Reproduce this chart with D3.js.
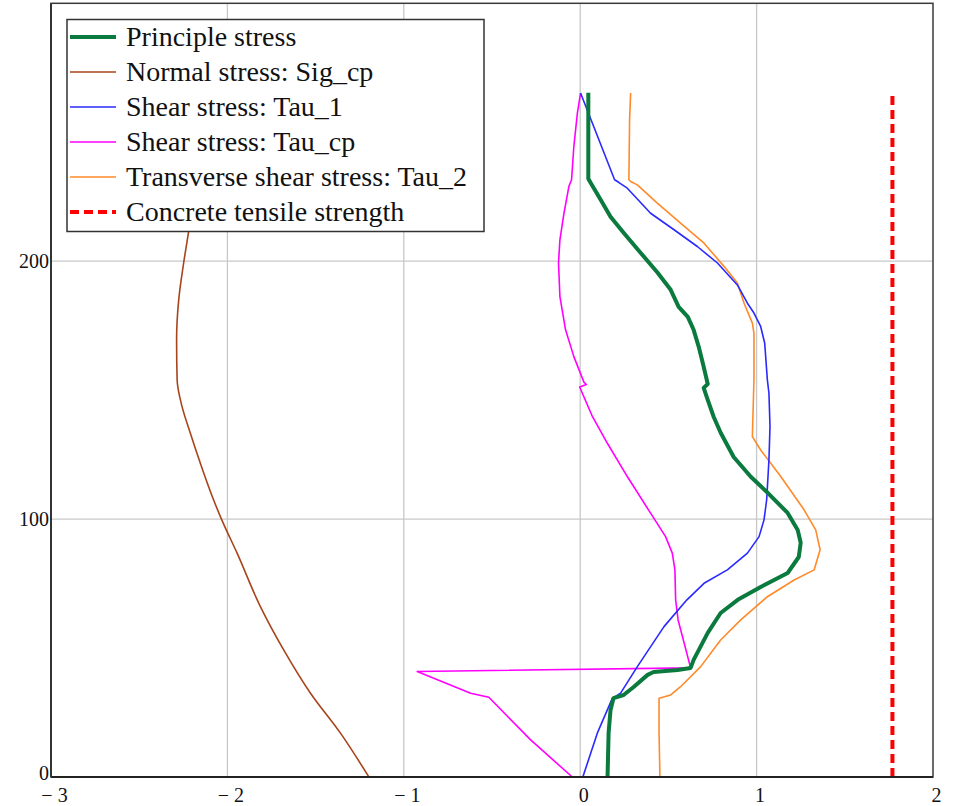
<!DOCTYPE html>
<html>
<head>
<meta charset="utf-8">
<script src="https://cdn.jsdelivr.net/npm/d3@7"></script>
<style>
  html, body { margin: 0; padding: 0; background: #fff; }
  svg { display: block; }
  text { font-family: "Liberation Serif", "Times New Roman", serif; fill: #111; }
</style>
</head>
<body>
<div id="chart"></div>
<script>
// ---------- data (height on y, stress on x) ----------
const xTicks = [-3, -2, -1, 0, 1, 2];
const yTicks = [0, 100, 200];
const xGrid = [-2, -1, 0, 1];
const yGrid = [100, 200];

const seriesNames = [
  "Principle stress",
  "Normal stress: Sig_cp",
  "Shear stress: Tau_1",
  "Shear stress: Tau_cp",
  "Transverse shear stress: Tau_2",
  "Concrete tensile strength"
];

const principleY = [265.3, 232.0, 230.4, 223.8, 217.2, 211.0, 203.3, 195.5, 188.9, 182.3, 178.4, 173.4, 166.8, 159.1, 152.4, 150.9, 146.2, 139.6, 133.4, 124.1, 116.4, 110.2, 102.4, 95.8, 90.8, 85.3, 79.1, 73.7, 68.7, 63.6, 55.9, 45.4, 42.3, 41.5, 40.7, 39.6, 34.9, 31.8, 30.6, 26.0, 17.1, 0];
const principleX = [0.046, 0.046, 0.059, 0.116, 0.172, 0.246, 0.342, 0.439, 0.513, 0.558, 0.610, 0.643, 0.672, 0.700, 0.723, 0.700, 0.723, 0.757, 0.797, 0.870, 0.967, 1.063, 1.176, 1.233, 1.250, 1.239, 1.176, 1.023, 0.893, 0.796, 0.723, 0.643, 0.626, 0.552, 0.416, 0.382, 0.303, 0.246, 0.189, 0.172, 0.161, 0.155];

const sigY = [265, 240, 211.5, 199.3, 185.0, 169.5, 154.0, 143.6, 133.3, 121.6, 107.4, 99.4, 86.8, 66.1, 49.3, 32.5, 17.0, 0];
const sigX = [-2.12, -2.17, -2.220, -2.248, -2.276, -2.288, -2.285, -2.257, -2.210, -2.153, -2.078, -2.030, -1.945, -1.813, -1.681, -1.529, -1.359, -1.198];

const tau1Y = [265.2, 231.6, 230.5, 228.3, 218.6, 212.2, 205.7, 199.3, 190.8, 183.7, 179.9, 174.7, 168.2, 154.0, 148.8, 135.9, 123.0, 107.4, 99.7, 93.2, 86.8, 80.3, 75.1, 68.7, 58.3, 42.8, 32.5, 30.5, 17.0, 0];
const tau1X = [0.002, 0.195, 0.220, 0.267, 0.399, 0.532, 0.664, 0.778, 0.891, 0.948, 0.985, 1.023, 1.046, 1.061, 1.070, 1.076, 1.070, 1.057, 1.042, 1.014, 0.948, 0.834, 0.702, 0.605, 0.475, 0.324, 0.229, 0.182, 0.097, 0.015];

const tauCpY = [265.2, 257.4, 244.5, 231.6, 229.0, 218.6, 208.3, 199.3, 186.3, 173.4, 163.0, 153.1, 152.2, 151.2, 139.8, 129.4, 116.5, 102.3, 93.2, 86.8, 80.3, 68.7, 60.9, 42.3, 40.9, 32.5, 30.9, 14.4, 0];
const tauCpX = [0.002, -0.016, -0.036, -0.049, -0.064, -0.092, -0.115, -0.123, -0.115, -0.083, -0.036, 0.021, 0.035, -0.003, 0.069, 0.154, 0.267, 0.399, 0.484, 0.522, 0.537, 0.541, 0.555, 0.626, -0.924, -0.621, -0.518, -0.281, -0.045];

const tau2Y = [265.2, 254.9, 231.6, 230.9, 229.6, 222.5, 214.8, 207.0, 198.0, 191.5, 183.7, 176.0, 172.1, 154.0, 132.0, 126.8, 116.5, 103.6, 95.8, 88.1, 80.3, 76.4, 69.9, 60.9, 53.1, 42.8, 35.0, 31.8, 30.5, 17.0, 0];
const tau2X = [0.286, 0.280, 0.276, 0.286, 0.324, 0.437, 0.569, 0.702, 0.815, 0.891, 0.929, 0.976, 0.985, 0.985, 0.976, 1.023, 1.137, 1.269, 1.335, 1.360, 1.326, 1.213, 1.061, 0.910, 0.796, 0.683, 0.569, 0.513, 0.447, 0.447, 0.452];

const strengthY = [0, 265];
const strengthX = [1.77, 1.77];

// ---------- layout ----------
const W = 955, H = 806;
const svg = d3.select("#chart").append("svg").attr("width", W).attr("height", H);

const x = d3.scaleLinear().domain([-3, 2]).range([51, 933]);
const y = d3.scaleLinear().domain([0, 300]).range([777, 3.3]);

// grid
svg.append("g").selectAll("line").data(xGrid).join("line")
  .attr("x1", d => x(d)).attr("x2", d => x(d))
  .attr("y1", y(0)).attr("y2", y(300))
  .attr("stroke", "#c8c8c8").attr("stroke-width", 1.3);
svg.append("g").selectAll("line").data(yGrid).join("line")
  .attr("x1", x(-3)).attr("x2", x(2))
  .attr("y1", d => y(d)).attr("y2", d => y(d))
  .attr("stroke", "#c8c8c8").attr("stroke-width", 1.3);

// axes (labels only, via d3 axis)
const fmt = d => d < 0 ? "\u2212 " + Math.abs(d) : String(d);
const xAxis = svg.append("g").attr("transform", `translate(3,${y(0)})`)
  .call(d3.axisBottom(x).tickValues(xTicks).tickFormat(fmt).tickSize(0).tickPadding(11));
const yAxis = svg.append("g").attr("transform", `translate(${x(-3)},0)`)
  .call(d3.axisLeft(y).tickValues(yTicks).tickFormat(d3.format("d")).tickSize(0).tickPadding(2));
[xAxis, yAxis].forEach(g => {
  g.select(".domain").remove();
  g.selectAll("text").attr("font-family", "Liberation Serif, serif").attr("font-size", 20).attr("fill", "#222");
});
yAxis.selectAll(".tick").filter(d => d === 0).select("text").attr("dy", "0.1em");

// series
const line = d3.line().x(d => x(d[0])).y(d => y(d[1]));
const smoothLine = d3.line().x(d => x(d[0])).y(d => y(d[1])).curve(d3.curveMonotoneY);
const zip = (xs, ys) => xs.map((v, i) => [v, ys[i]]);

const series = [
  { name: seriesNames[0], pts: zip(principleX, principleY), color: "#0b7a3e", width: 4, dash: null, gen: line },
  { name: seriesNames[1], pts: zip(sigX, sigY), color: "#a8441c", width: 1.6, dash: null, gen: smoothLine },
  { name: seriesNames[2], pts: zip(tau1X, tau1Y), color: "#2a2aff", width: 1.6, dash: null, gen: line },
  { name: seriesNames[3], pts: zip(tauCpX, tauCpY), color: "#ff00ff", width: 1.6, dash: null, gen: line },
  { name: seriesNames[4], pts: zip(tau2X, tau2Y), color: "#ff8a2a", width: 1.6, dash: null, gen: line },
  { name: seriesNames[5], pts: zip(strengthX, strengthY), color: "#ff0000", width: 4, dash: "9,5", gen: line }
];

const drawOrder = [1, 4, 3, 2, 0, 5];
drawOrder.forEach(i => {
  const s = series[i];
  svg.append("path").attr("d", s.gen(s.pts))
    .attr("fill", "none").attr("stroke", s.color).attr("stroke-width", s.width)
    .attr("stroke-linejoin", "round")
    .attr("stroke-dasharray", s.dash);
});

// frame
svg.append("rect").attr("x", x(-3)).attr("y", y(300))
  .attr("width", x(2) - x(-3)).attr("height", y(0) - y(300))
  .attr("fill", "none").attr("stroke", "#3a3a3a").attr("stroke-width", 1.5);
svg.append("line").attr("x1", x(-3)).attr("x2", x(2)).attr("y1", y(0)).attr("y2", y(0))
  .attr("stroke", "#222").attr("stroke-width", 2);
svg.append("line").attr("x1", x(-3)).attr("x2", x(-3)).attr("y1", y(0)).attr("y2", y(300))
  .attr("stroke", "#333").attr("stroke-width", 2);

// legend
const lg = svg.append("g");
lg.append("rect").attr("x", 67).attr("y", 19.5).attr("width", 417).attr("height", 212)
  .attr("fill", "#fff").attr("stroke", "#333").attr("stroke-width", 1.5);
series.forEach((s, i) => {
  const cy = 37 + i * 35;
  lg.append("line").attr("x1", 70).attr("x2", 116).attr("y1", cy).attr("y2", cy)
    .attr("stroke", s.color).attr("stroke-width", s.width === 4 ? 4 : 1.6)
    .attr("stroke-dasharray", s.dash);
  lg.append("text").attr("x", 126).attr("y", cy).attr("dy", "0.33em")
    .attr("font-size", 28).attr("fill", "#111").text(s.name);
});
</script>
</body>
</html>
